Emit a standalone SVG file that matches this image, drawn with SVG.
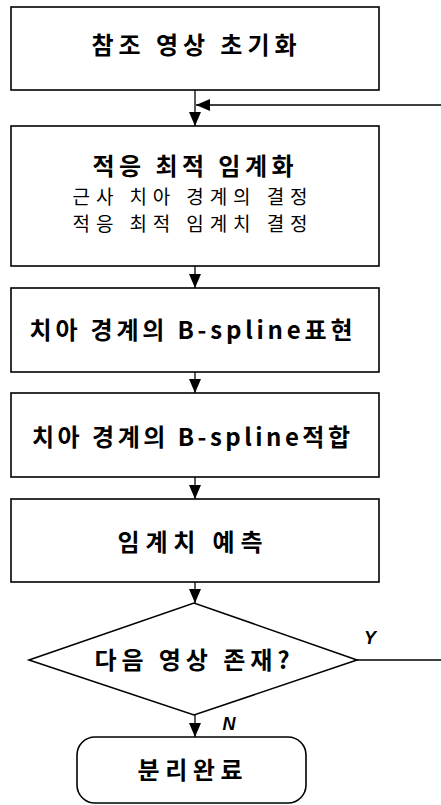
<svg xmlns="http://www.w3.org/2000/svg" width="441" height="805" viewBox="0 0 441 805">
<style>
.box{fill:#fff;stroke:#000;stroke-width:1.6}
.ln{fill:none;stroke:#000;stroke-width:1.3}
.t{font-family:"Noto Sans CJK KR","Noto Sans",sans-serif;font-weight:bold;font-size:24px;text-anchor:middle;fill:#000}
.s{font-family:"Noto Sans CJK KR","Noto Sans",sans-serif;font-weight:normal;font-size:19px;text-anchor:middle;fill:#000}
.l{font-family:"Liberation Sans",Arial,sans-serif;font-weight:bold;font-style:italic;font-size:18px;text-anchor:middle;fill:#000}
</style>
<defs>
<marker id="ah" markerWidth="14" markerHeight="12" refX="14" refY="6" orient="auto" markerUnits="userSpaceOnUse">
<path d="M0,0 L14,6 L0,12 Z" fill="#000"/>
</marker>
</defs>
<rect width="441" height="805" fill="#fff"/>
<g id="connectors">
<line class="ln" x1="195" y1="90" x2="195" y2="126" marker-end="url(#ah)"/>
<line class="ln" x1="441" y1="105" x2="196" y2="105" marker-end="url(#ah)"/>
<line class="ln" x1="195" y1="266" x2="195" y2="288" marker-end="url(#ah)"/>
<line class="ln" x1="195" y1="372" x2="195" y2="393" marker-end="url(#ah)"/>
<line class="ln" x1="195" y1="477" x2="195" y2="499" marker-end="url(#ah)"/>
<line class="ln" x1="195" y1="582" x2="195" y2="603" marker-end="url(#ah)"/>
<line class="ln" x1="195" y1="715" x2="195" y2="737" marker-end="url(#ah)"/>
<line class="ln" x1="357" y1="660" x2="441" y2="660"/>
<text class="l" x="370" y="644">Y</text>
<text class="l" x="229" y="730">N</text>
</g>
<g id="n1">
<rect class="box" x="11" y="7" width="368" height="83"/>
<text class="t" x="194" y="54" textLength="205" lengthAdjust="spacing">참조 영상 초기화</text>
</g>
<g id="n2">
<rect class="box" x="11" y="126" width="368" height="140"/>
<text class="t" x="193" y="175" textLength="201" lengthAdjust="spacing">적응 최적 임계화</text>
<text class="s" x="190" y="204" textLength="235" lengthAdjust="spacing">근사 치아 경계의 결정</text>
<text class="s" x="190" y="231" textLength="235" lengthAdjust="spacing">적응 최적 임계치 결정</text>
</g>
<g id="n3">
<rect class="box" x="11" y="288" width="368" height="84"/>
<text class="t" x="191" y="339" textLength="323" lengthAdjust="spacing">치아 경계의 B-spline표현</text>
</g>
<g id="n4">
<rect class="box" x="11" y="393" width="368" height="84"/>
<text class="t" x="191" y="446" textLength="318" lengthAdjust="spacing">치아 경계의 B-spline적합</text>
</g>
<g id="n5">
<rect class="box" x="11" y="499" width="368" height="83"/>
<text class="t" x="190" y="551" textLength="145" lengthAdjust="spacing">임계치 예측</text>
</g>
<g id="n6">
<polygon class="box" points="29,660 194,603 357,660 194,715"/>
<text class="t" x="192" y="669" textLength="195" lengthAdjust="spacing">다음 영상 존재?</text>
</g>
<g id="n7">
<rect class="box" x="77" y="737" width="229" height="66" rx="18" ry="18"/>
<text class="t" x="190" y="779" textLength="105" lengthAdjust="spacing">분리완료</text>
</g>
</svg>
